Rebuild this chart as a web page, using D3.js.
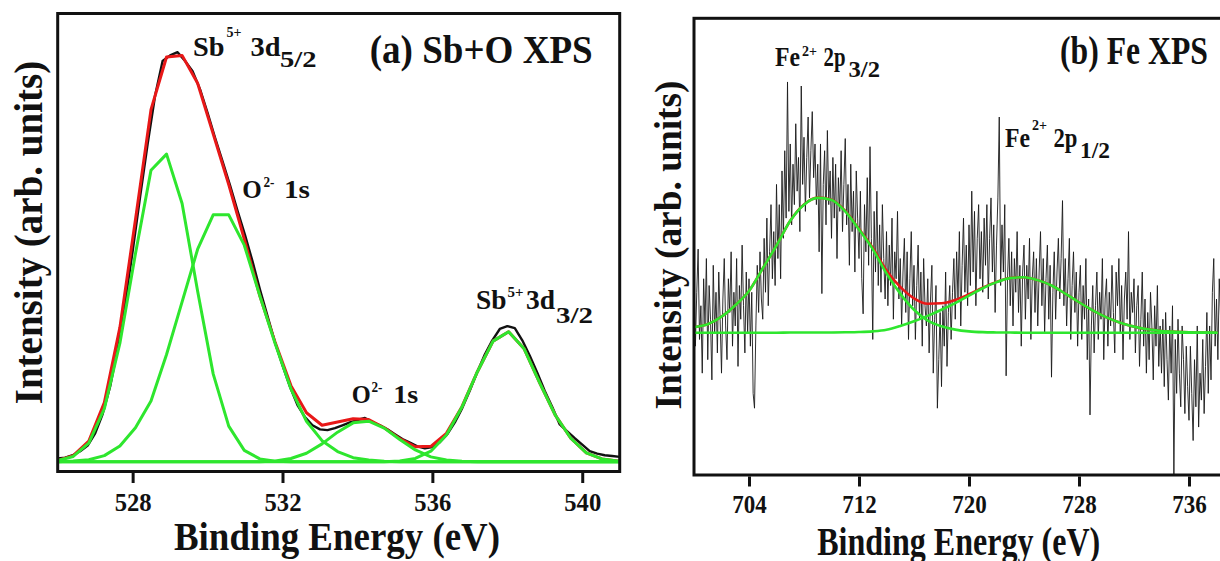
<!DOCTYPE html>
<html>
<head>
<meta charset="utf-8">
<script src="https://cdn.jsdelivr.net/npm/d3@7"></script>
<style>
html, body { margin: 0; padding: 0; background: #ffffff; }
svg { display: block; }
text { font-family: "Liberation Serif", "Times New Roman", serif; font-weight: bold; fill: #111; }
</style>
</head>
<body>
<svg id="chart" width="1220" height="561"></svg>
<script>
// ---------------- Panel (a): Sb 3d + O 1s ----------------
const tickValuesA = [528, 532, 536, 540];
const fitEnergyA = [526.00, 526.415, 526.83, 527.245, 527.66, 528.075, 528.49, 528.905, 529.32, 529.735,
  530.15, 530.565, 530.98, 531.395, 531.81, 532.225, 532.64, 533.055, 533.47, 533.885,
  534.30, 534.715, 535.13, 535.545, 535.96, 536.375, 536.79, 537.205, 537.62, 538.035,
  538.45, 538.865, 539.28, 539.695, 540.11, 540.525, 540.94, 541.355];
const sb3d52A = [0.003, 0.013, 0.046, 0.131, 0.293, 0.514, 0.72, 0.76, 0.638, 0.421,
  0.217, 0.088, 0.028, 0.007, 0.001, 0, 0, 0, 0, 0,
  0, 0, 0, 0, 0, 0, 0, 0, 0, 0,
  0, 0, 0, 0, 0, 0, 0, 0];
const o1sMainA = [0, 0.002, 0.005, 0.015, 0.039, 0.084, 0.15, 0.265, 0.395, 0.525,
  0.61, 0.61, 0.535, 0.41, 0.29, 0.18, 0.10, 0.052, 0.025, 0.01,
  0.004, 0.001, 0, 0, 0, 0, 0, 0, 0, 0,
  0, 0, 0, 0, 0, 0, 0, 0];
const o1sMinorA = [0, 0, 0, 0, 0, 0, 0, 0, 0, 0,
  0, 0, 0, 0, 0.002, 0.008, 0.021, 0.044, 0.073, 0.096,
  0.100, 0.083, 0.055, 0.029, 0.012, 0.004, 0.001, 0, 0, 0,
  0, 0, 0, 0, 0, 0, 0, 0];
const sb3d32A = [0, 0, 0, 0, 0, 0, 0, 0, 0, 0,
  0, 0, 0, 0, 0, 0, 0, 0, 0, 0,
  0, 0, 0.002, 0.008, 0.026, 0.066, 0.135, 0.223, 0.298, 0.321,
  0.279, 0.195, 0.115, 0.058, 0.022, 0.007, 0.002, 0];
const envelopeA = [0.003, 0.015, 0.051, 0.146, 0.332, 0.598, 0.87, 1.0, 1.004, 0.935,
  0.81, 0.685, 0.55, 0.41, 0.293, 0.188, 0.121, 0.09, 0.098, 0.106,
  0.104, 0.084, 0.057, 0.037, 0.038, 0.070, 0.136, 0.223, 0.298, 0.321,
  0.279, 0.195, 0.115, 0.058, 0.022, 0.007, 0.002, 0];
const rawStartA = 526.0, rawStepA = 0.2;
const rawA = [0.008, 0.010, 0.016, 0.026, 0.040, 0.070, 0.118, 0.186, 0.280, 0.392,
  0.52, 0.655, 0.785, 0.905, 0.99, 1.004, 1.012, 0.99, 0.965, 0.92,
  0.862, 0.80, 0.742, 0.683, 0.62, 0.56, 0.495, 0.425, 0.36, 0.295,
  0.238, 0.185, 0.14, 0.11, 0.09, 0.08, 0.078, 0.083, 0.09, 0.097,
  0.103, 0.108, 0.098, 0.09, 0.08, 0.068, 0.056, 0.047, 0.038, 0.033,
  0.036, 0.048, 0.068, 0.097, 0.133, 0.176, 0.222, 0.265, 0.30, 0.328,
  0.335, 0.33, 0.30, 0.262, 0.22, 0.175, 0.135, 0.092, 0.075, 0.058,
  0.042, 0.026, 0.020, 0.016, 0.014, 0.012];

// ---------------- Panel (b): Fe 2p ----------------
const tickValuesB = [704, 712, 720, 728, 736];
const fitEnergyB = [700, 701, 702, 703, 704, 705, 706, 707, 708, 709,
  710, 711, 712, 713, 714, 715, 716, 717, 718, 719,
  720, 721, 722, 723, 724, 725, 726, 727, 728, 729,
  730, 731, 732, 733, 734, 735, 736, 737, 738];
const fe2p32B = [0.042, 0.063, 0.119, 0.204, 0.31, 0.477, 0.647, 0.83, 0.95, 1.0,
  0.985, 0.90, 0.765, 0.62, 0.44, 0.29, 0.17, 0.09, 0.048, 0.023,
  0.010, 0.004, 0.002, 0.001, 0, 0, 0, 0, 0, 0,
  0, 0, 0, 0, 0, 0, 0, 0, 0];
const fe2p12B = [0, 0, 0, 0, 0, 0, 0, 0.001, 0.001, 0.002,
  0.002, 0.003, 0.005, 0.010, 0.022, 0.05, 0.085, 0.125, 0.17, 0.22,
  0.275, 0.33, 0.375, 0.405, 0.411, 0.39, 0.35, 0.29, 0.226, 0.166,
  0.114, 0.074, 0.045, 0.025, 0.013, 0.007, 0.003, 0.001, 0];
const envelopeB = [0.042, 0.063, 0.119, 0.204, 0.31, 0.477, 0.647, 0.831, 0.951, 1.002,
  0.987, 0.903, 0.77, 0.63, 0.462, 0.34, 0.255, 0.215, 0.218, 0.243,
  0.285, 0.334, 0.377, 0.406, 0.411, 0.39, 0.35, 0.29, 0.226, 0.166,
  0.114, 0.074, 0.045, 0.025, 0.013, 0.007, 0.003, 0.001, 0];
const rawStartB = 700.0, rawStepB = 0.1;
const rawB = [
  0.45, -0.10, 0.30, 0.62, -0.05, 0.20, -0.30, 0.40, 0.05, 0.55,
  -0.20, 0.35, 0.10, -0.35, 0.50, 0.00, 0.30, -0.15, 0.45, 0.10,
  -0.30, 0.25, 0.55, 0.05, -0.20, 0.40, 0.15, 0.60, -0.10, 0.30,
  0.05, 0.55, -0.25, 0.35, 0.10, 0.65, 0.20, -0.15, 0.45, 0.00,
  0.40, -0.10, 0.30, -0.45, -0.56, 0.05, 0.50, 0.15, 0.60, 0.25,
  0.10, 0.70, 0.30, 0.85, 0.20, 0.60, 0.95, 0.40, 0.75, 0.35,
  1.10, 0.55, 0.95, 0.40, 1.20, 0.70, 1.35, 0.85, 1.86, 0.90,
  1.40, 0.80, 1.25, 0.95, 1.55, 1.05, 1.30, 0.75, 1.83, 1.10,
  1.45, 0.90, 1.30, 1.60, 1.00, 1.35, 1.64, 1.15, 1.40, 0.95,
  1.25, 0.60, 1.40, 0.29, 1.10, 1.35, 0.80, 1.50, 0.95, 1.20,
  0.70, 1.30, 0.85, 1.25, 0.55, 1.15, 0.90, 1.35, 0.75, 1.10,
  1.44, 0.80, 1.10, 0.50, 1.25, 0.75, 1.05, 0.45, 1.20, 0.85,
  0.55, 1.05, 0.40, 0.14, 0.95, 0.60, 1.15, 0.50, 1.38, 0.70,
  -0.05, 0.90, 0.45, 1.05, 0.35, 0.80, 0.30, 0.95, 0.55, 0.25,
  0.75, 0.20, 0.65, 0.35, 0.85, 0.10, 0.60, 0.40, 0.90, 0.25,
  0.55, 0.05, 0.45, 0.70, 0.15, 0.60, -0.05, 0.40, 0.75, 0.20,
  0.50, -0.05, 0.35, 0.65, 0.10, 0.45, -0.10, 0.55, 0.20, 0.05,
  0.40, -0.15, 0.25, 0.50, -0.30, 0.10, 0.35, -0.56, -0.20, 0.15,
  -0.40, 0.20, -0.10, 0.45, -0.25, 0.15, 0.35, -0.05, 0.30, 0.55,
  0.10, 0.60, 0.25, 0.75, 0.05, 0.50, 0.85, 0.30, 0.65, 0.20,
  0.80, 0.35, 1.05, 0.45, 0.90, 0.20, 0.70, 0.95, 0.40, 0.75,
  0.30, 0.85, 0.50, 0.95, 0.25, 0.70, 1.00, 0.45, 0.80, 0.15,
  0.65, 1.00, 1.60, 0.35, 0.80, 0.45, 0.95, -0.32, 0.40, 0.70,
  0.20, 0.60, 0.05, 0.55, 0.30, 0.75, 0.15, 0.50, -0.10, 0.45,
  0.65, 0.10, 0.50, 0.25, 0.70, -0.05, 0.40, 0.60, 0.15, 0.55,
  0.05, 0.45, 0.75, 0.20, 0.55, 0.00, 0.40, 0.65, 0.10, 0.50,
  -0.33, 0.30, 0.60, 0.10, 0.45, 0.70, 0.25, 0.55, 0.98, 0.20,
  0.55, 0.05, 0.40, 0.70, -0.05, 0.35, 0.60, 0.15, 0.45, -0.10,
  0.30, 0.50, -0.05, 0.35, 0.10, 0.55, -0.20, 0.25, -0.61, 0.05,
  0.35, -0.15, 0.20, 0.45, -0.05, 0.30, 0.10, 0.55, -0.20, 0.25,
  0.40, -0.10, 0.30, 0.05, 0.50, 0.15, -0.15, 0.45, 0.20, 0.55,
  0.00, 0.35, -0.20, 0.25, 0.45, 0.10, 0.75, -0.05, 0.30, 0.15,
  0.40, -0.15, 0.20, 0.35, -0.25, 0.10, 0.45, -0.10, 0.25, -0.30,
  0.15, -0.20, 0.30, 0.05, -0.35, 0.20, -0.10, 0.35, -0.25, 0.05,
  -0.30, 0.10, -0.40, 0.15, -0.20, -0.50, 0.05, -0.30, 0.20, -1.06,
  -0.05, -0.45, 0.10, -0.30, -0.55, 0.05, -0.20, -0.60, -0.10, -0.40,
  -0.65, -0.10, -0.45, -0.80, -0.20, -0.55, 0.05, -0.70, -0.30, -0.50,
  -0.05, -0.60, -0.25, 0.15, -0.45, 0.05, -0.35, 0.30, 0.55, -0.10,
  0.25, -0.20, 0.40, 0.10, 0.35, -0.05];

// ---------------- drawing ----------------
const INK = "#111111", GREEN = "#2ee62e", RED = "#e81818";
const svg = d3.select("#chart");
const defs = svg.append("defs");

function makePanel(cfg) {
  const g = svg.append("g");
  const x = d3.scaleLinear().domain(cfg.xDomain).range([cfg.left, cfg.right]);
  const y = d3.scaleLinear().domain(cfg.yDomain).range([cfg.bottom, cfg.top]);
  defs.append("clipPath").attr("id", cfg.id)
    .append("rect").attr("x", cfg.left).attr("y", cfg.top)
    .attr("width", cfg.right - cfg.left).attr("height", cfg.bottom - cfg.top);
  const plot = g.append("g").attr("clip-path", `url(#${cfg.id})`);
  return { cfg, g, x, y, plot };
}

function drawSeries(p, xs, ys, color, width, curve) {
  const pts = xs.map((e, i) => [e, ys[i]]);
  const line = d3.line().x(d => p.x(d[0])).y(d => p.y(d[1])).curve(curve || d3.curveLinear);
  p.plot.append("path").datum(pts).attr("d", line)
    .attr("fill", "none").attr("stroke", color).attr("stroke-width", width)
    .attr("stroke-linejoin", "round").attr("stroke-linecap", "round");
}

function drawFrameAndAxis(p, ticks, labelBaseline, labelSize, labelLen) {
  const c = p.cfg;
  p.g.append("rect").attr("x", c.left).attr("y", c.top)
    .attr("width", c.right - c.left).attr("height", c.bottom - c.top)
    .attr("fill", "none").attr("stroke", INK).attr("stroke-width", 3);
  const axisY = c.bottom + 1.5;
  const ax = d3.axisBottom(p.x).tickValues(ticks).tickSize(10).tickFormat(d3.format("d"));
  const axg = p.g.append("g").attr("transform", `translate(0,${axisY})`).call(ax);
  axg.attr("font-family", null).attr("font-size", null);
  axg.select(".domain").remove();
  axg.selectAll(".tick line").attr("stroke", INK).attr("stroke-width", 3);
  axg.selectAll(".tick text")
    .attr("dy", null).attr("y", labelBaseline - axisY)
    .attr("fill", INK)
    .style("font-size", labelSize + "px")
    .attr("textLength", labelLen).attr("lengthAdjust", "spacingAndGlyphs");
}

function txt(str, x, y, size, len) {
  const t = svg.append("text").attr("x", x).attr("y", y)
    .style("font-size", size + "px").text(str);
  if (len) t.attr("textLength", len).attr("lengthAdjust", "spacingAndGlyphs");
  return t;
}
function centeredTxt(str, cx, y, size, len) {
  return txt(str, cx, y, size, len).attr("text-anchor", "middle");
}
function stretchedTxt(str, x, y, size, len, sy) {
  svg.append("text").attr("transform", `translate(${x},${y}) scale(1,${sy})`)
    .style("font-size", size + "px")
    .attr("textLength", len).attr("lengthAdjust", "spacingAndGlyphs").text(str);
}
function rotatedTxt(str, bx, cy, size, len) {
  svg.append("text").attr("transform", `translate(${bx},${cy}) rotate(-90)`)
    .attr("text-anchor", "middle").style("font-size", size + "px")
    .attr("textLength", len).attr("lengthAdjust", "spacingAndGlyphs").text(str);
}

// ----- panel a -----
const pa = makePanel({ id: "clipA", xDomain: [526, 541], yDomain: [-0.0242, 1.1075],
  left: 57.7, right: 619.7, top: 13.5, bottom: 471.5 });
const rawEA = rawA.map((_, i) => rawStartA + rawStepA * i);
drawSeries(pa, rawEA, rawA, INK, 2.4);
drawSeries(pa, fitEnergyA, envelopeA, RED, 3);
[sb3d52A, o1sMainA, o1sMinorA, sb3d32A].forEach(s => drawSeries(pa, fitEnergyA, s, GREEN, 3));
drawFrameAndAxis(pa, tickValuesA, 511, 26, 37);

// ----- panel b -----
const pb = makePanel({ id: "clipB", xDomain: [700, 742], yDomain: [-1.0556, 2.3323],
  left: 694, right: 1271.5, top: 18.3, bottom: 475 });
const rawEB = rawB.map((_, i) => rawStartB + rawStepB * i);
drawSeries(pb, rawEB, rawB, "#1a1a1a", 0.9);
drawSeries(pb, fitEnergyB, envelopeB, RED, 2.6, d3.curveMonotoneX);
[fe2p32B, fe2p12B].forEach(s => drawSeries(pb, fitEnergyB, s, GREEN, 2.6, d3.curveMonotoneX));
drawFrameAndAxis(pb, tickValuesB, 513.4, 26, 34.5);

// ----- axis titles -----
centeredTxt("Binding Energy (eV)", 337, 549.5, 40, 326);
centeredTxt("Binding Energy (eV)", 958.7, 554.5, 39, 283);
rotatedTxt("Intensity (arb. units)", 41.5, 232.5, 39, 343.5);
rotatedTxt("Intensity (arb. units)", 681, 245, 37.5, 329);

// ----- panel titles -----
txt("(a) Sb+O XPS", 369.7, 62.6, 40, 223);
stretchedTxt("(b) Fe XPS", 1060, 64.4, 33, 148, 1.2);

// ----- peak annotations (a) -----
txt("Sb", 193, 55.5, 27, 31.5); txt("5+", 226.5, 36.5, 14.5, 15);
txt("3d", 250.5, 55.5, 27, 30); txt("5/2", 280, 67.3, 24, 36.5);

txt("O", 242.3, 198.3, 26, 19.5); txt("2-", 263.5, 186.7, 14.5, 11); txt("1s", 284, 198.3, 26, 26);

txt("O", 351.7, 402.7, 26, 19); txt("2-", 371.5, 391.5, 14.5, 11); txt("1s", 393.3, 402.7, 26, 25);

txt("Sb", 476, 309.3, 27, 30.5); txt("5+", 507.5, 297, 15, 16);
txt("3d", 526, 309.3, 27, 29); txt("3/2", 556, 323.3, 23, 37);

// ----- peak annotations (b) -----
txt("Fe", 775, 66.2, 27, 25); txt("2+", 802, 55.5, 14.5, 15);
txt("2p", 823.6, 66.2, 27, 22); txt("3/2", 848.5, 77, 23, 31.5);

txt("Fe", 1005, 146.7, 27, 25); txt("2+", 1032, 130, 14.5, 15);
txt("2p", 1053.5, 146.7, 27, 24); txt("1/2", 1080, 158, 23, 30);
</script>
</body>
</html>
